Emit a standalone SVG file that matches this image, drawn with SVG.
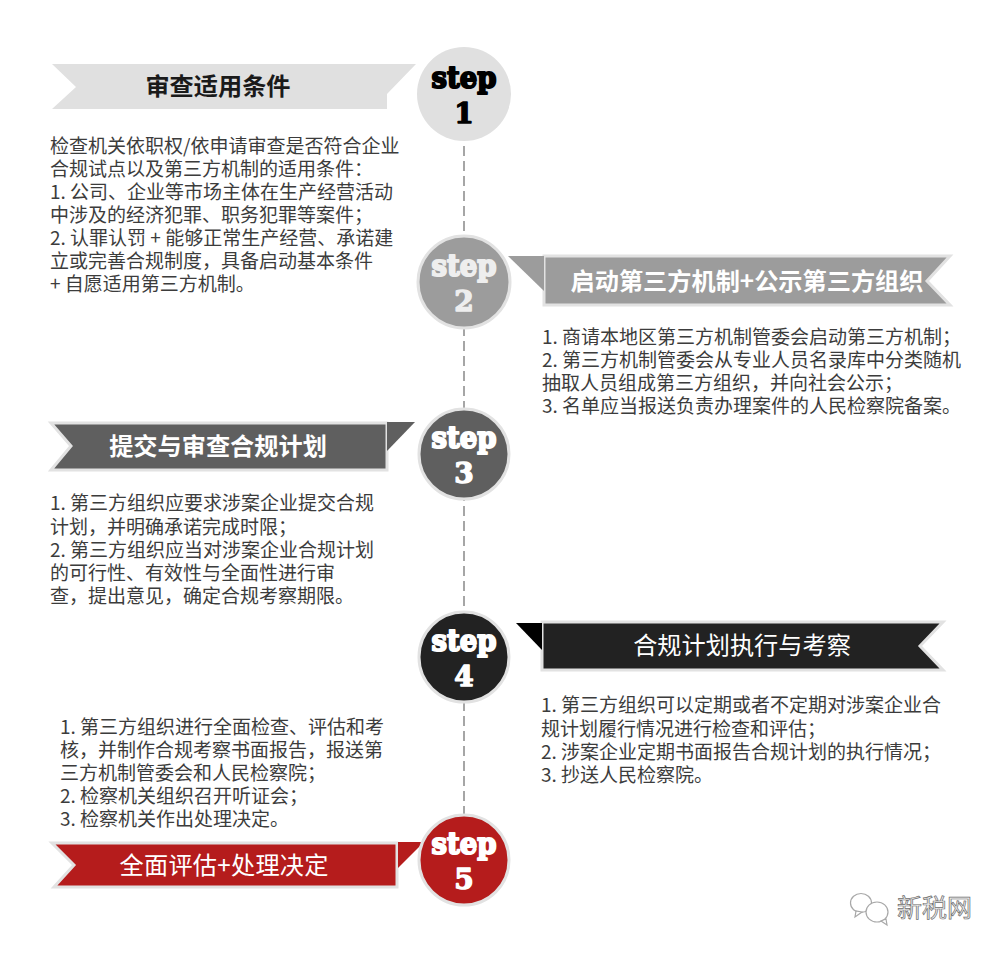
<svg xmlns="http://www.w3.org/2000/svg" width="1004" height="953" viewBox="0 0 1004 953">
<style>
text{font-family:"Noto Sans CJK SC","Liberation Sans",sans-serif}
.body{font-size:19px;fill:#3c3c3c}
.title{font-size:24.2px;font-weight:700;text-anchor:middle;fill:#fff}
.reg{font-weight:400}
.step{font-family:"DejaVu Serif",serif;font-weight:700;font-size:29px;text-anchor:middle;stroke-width:2;stroke-linejoin:round}
.num{font-family:"DejaVu Serif",serif;font-weight:700;font-size:28px;text-anchor:middle;stroke-width:1.4;stroke-linejoin:round}
.ring{stroke:#e2e2e2;stroke-width:3}
.band{stroke:#e2e2e2;stroke-width:3}
.wm{fill:#fff;stroke:#a8a8a8;stroke-width:1.2}
</style>
<rect width="1004" height="953" fill="#fff"/>
<g id="connectors"><line x1="464" y1="146" x2="464" y2="815" stroke="#a6a6a6" stroke-width="2" stroke-dasharray="10 5"/></g>

<g id="step1">
<polygon points="52,64 416,64 387,94 387,109 52,109 76,87" fill="#e0e0e0"/>
<text class="title" x="218" y="95" style="fill:#1a1a1a">审查适用条件</text>
<circle cx="464" cy="94" r="47" fill="#e0e0e0"/>
<text class="step" x="464" y="88" textLength="65" lengthAdjust="spacingAndGlyphs" fill="#000" stroke="#000">step</text>
<text class="num" x="464" y="123" fill="#000" stroke="#000">1</text>
<text class="body"><tspan x="50" y="153">检查机关依职权/依申请审查是否符合企业</tspan><tspan x="50" y="176">合规试点以及第三方机制的适用条件：</tspan><tspan x="50" y="199">1. 公司、企业等市场主体在生产经营活动</tspan><tspan x="50" y="222">中涉及的经济犯罪、职务犯罪等案件；</tspan><tspan x="50" y="245">2. 认罪认罚 + 能够正常生产经营、承诺建</tspan><tspan x="50" y="268">立或完善合规制度，具备启动基本条件</tspan><tspan x="50" y="291">+ 自愿适用第三方机制。</tspan></text>
</g>

<g id="step2">
<polygon class="band" points="544,256 950,256 927,281 950,305 544,305" fill="#9c9c9c"/>
<polygon points="508,256 544,256 544,291" fill="#9c9c9c"/>
<text class="title" x="747" y="290">启动第三方机制+公示第三方组织</text>
<circle class="ring" cx="464" cy="282" r="46" fill="#9c9c9c"/>
<text class="step" x="464" y="276" textLength="65" lengthAdjust="spacingAndGlyphs" fill="#eee" stroke="#eee">step</text>
<text class="num" x="464" y="311" fill="#eee" stroke="#eee">2</text>
<text class="body"><tspan x="542" y="344">1. 商请本地区第三方机制管委会启动第三方机制；</tspan><tspan x="542" y="367">2. 第三方机制管委会从专业人员名录库中分类随机</tspan><tspan x="542" y="390">抽取人员组成第三方组织，并向社会公示；</tspan><tspan x="542" y="413">3. 名单应当报送负责办理案件的人民检察院备案。</tspan></text>
</g>

<g id="step3">
<polygon class="band" points="51,423 387,423 387,470 51,470 71,446" fill="#5f5f5f"/>
<polygon points="387,422 415,422 387,451" fill="#5f5f5f"/>
<text class="title" x="218" y="455">提交与审查合规计划</text>
<circle class="ring" cx="464" cy="454" r="45" fill="#5f5f5f"/>
<text class="step" x="464" y="448" textLength="65" lengthAdjust="spacingAndGlyphs" fill="#fff" stroke="#fff">step</text>
<text class="num" x="464" y="483" fill="#fff" stroke="#fff">3</text>
<text class="body"><tspan x="50" y="510">1. 第三方组织应要求涉案企业提交合规</tspan><tspan x="50" y="534">计划，并明确承诺完成时限；</tspan><tspan x="50" y="557">2. 第三方组织应当对涉案企业合规计划</tspan><tspan x="50" y="580">的可行性、有效性与全面性进行审</tspan><tspan x="50" y="603">查，提出意见，确定合规考察期限。</tspan></text>
</g>

<g id="step4">
<polygon class="band" points="542,622 943,622 920,646 943,670 542,670" fill="#222"/>
<polygon points="516,623 542,623 542,650" fill="#000"/>
<text class="title reg" x="742" y="654">合规计划执行与考察</text>
<circle class="ring" cx="464" cy="657" r="45" fill="#222"/>
<text class="step" x="464" y="651" textLength="65" lengthAdjust="spacingAndGlyphs" fill="#fff" stroke="#fff">step</text>
<text class="num" x="464" y="686" fill="#fff" stroke="#fff">4</text>
<text class="body"><tspan x="541" y="712">1. 第三方组织可以定期或者不定期对涉案企业合</tspan><tspan x="541" y="736">规计划履行情况进行检查和评估；</tspan><tspan x="541" y="759">2. 涉案企业定期书面报告合规计划的执行情况；</tspan><tspan x="541" y="782">3. 抄送人民检察院。</tspan></text>
</g>

<g id="step5">
<polygon class="band" points="52,843 397,843 397,887 54,887 74,865" fill="#b51c1c"/>
<polygon points="398,842 424,842 398,868" fill="#b51c1c"/>
<text class="title reg" x="224" y="874" textLength="209">全面评估+处理决定</text>
<circle class="ring" cx="464" cy="860" r="45" fill="#b51c1c"/>
<text class="step" x="464" y="854" textLength="65" lengthAdjust="spacingAndGlyphs" fill="#fff" stroke="#fff">step</text>
<text class="num" x="464" y="889" fill="#fff" stroke="#fff">5</text>
<text class="body"><tspan x="60" y="734">1. 第三方组织进行全面检查、评估和考</tspan><tspan x="60" y="757">核，并制作合规考察书面报告，报送第</tspan><tspan x="60" y="780">三方机制管委会和人民检察院；</tspan><tspan x="60" y="803">2. 检察机关组织召开听证会；</tspan><tspan x="60" y="826">3. 检察机关作出处理决定。</tspan></text>
</g>

<g id="watermark">
<ellipse class="wm" cx="861" cy="903" rx="10.5" ry="9.5"/>
<path class="wm" d="M856 911 L855 917 L862 912 Z"/>
<ellipse class="wm" cx="877" cy="912" rx="11" ry="10"/>
<path class="wm" d="M881 921 L887 925 L886 919 Z"/>
<text x="897" y="917" font-size="25" fill="#f0f0f0" stroke="#6e6e6e" stroke-width="0.7">新税网</text>
</g>
</svg>
